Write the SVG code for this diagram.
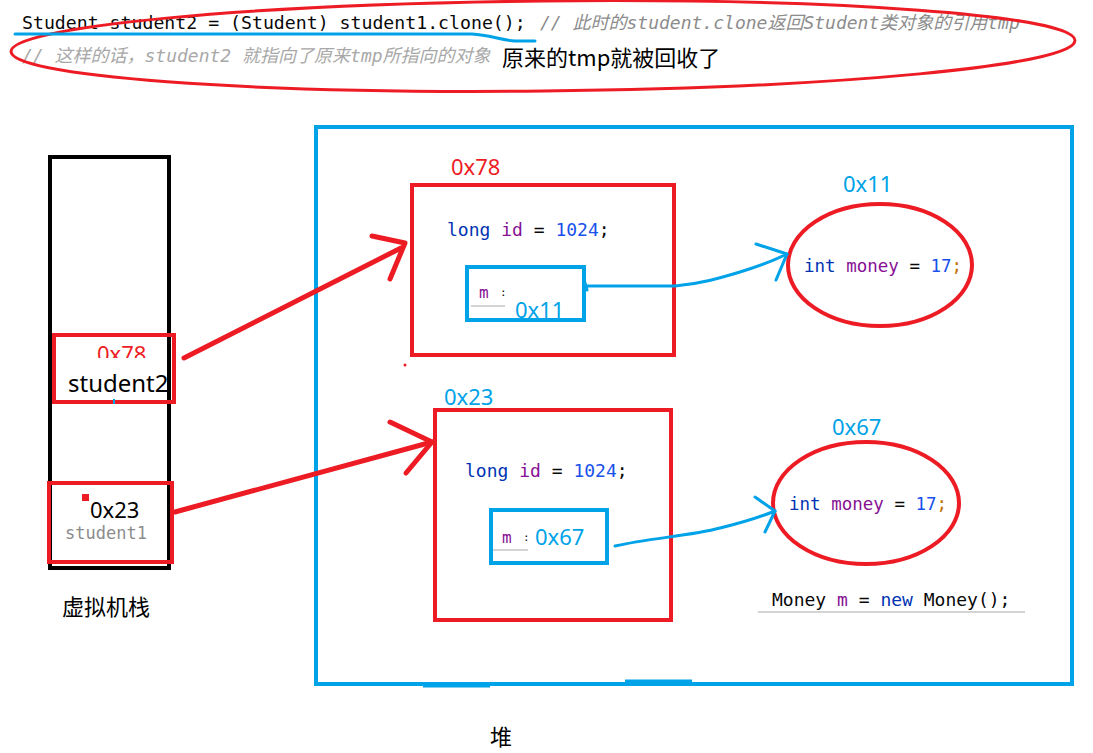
<svg xmlns="http://www.w3.org/2000/svg" width="1093" height="753" viewBox="0 0 1093 753">
<defs>
<style>
.code{font-family:"DejaVu Sans Mono","Liberation Mono","Noto Sans CJK SC",monospace;font-size:18px}
.cmt{font-family:"DejaVu Sans Mono","Noto Sans CJK SC",monospace;font-size:18px;font-style:italic;fill:#8c8c8c}
.cmt2{fill:#a8a8a8}
.hand{font-family:"Noto Sans","Noto Sans CJK SC",sans-serif;font-size:22px}
.cjk{font-family:"Noto Sans CJK SC",sans-serif;font-size:22px;fill:#000}
.kw{fill:#0033b3}.var{fill:#871094}.num{fill:#1750eb}.blk{fill:#080808}
.redbox{fill:none;stroke:#ed1c24;stroke-width:4}
.bluebox{fill:none;stroke:#00a2e8;stroke-width:4}
.red{fill:#ed1c24}.blue{fill:#00a2e8}
.redpen{fill:none;stroke:#ed1c24;stroke-width:5;stroke-linecap:round;stroke-linejoin:round}
.bluepen{fill:none;stroke:#00a2e8;stroke-width:3;stroke-linecap:round;stroke-linejoin:round}
.uline{stroke:#c4c4c4;stroke-width:1.5}
</style>
<clipPath id="clip78"><rect x="56" y="337" width="116" height="21"/></clipPath>
</defs>

<g id="header">
<text class="code blk" x="22" y="29" style="font-size:18.2px">Student student2 = (Student) student1.clone();</text>
<text class="cmt" x="540" y="29">// 此时的student.clone返回Student类对象的引用tmp</text>
<text class="cmt cmt2" x="22" y="62">// 这样的话，student2 就指向了原来tmp所指向的对象</text>
<text class="cjk" x="502" y="66">原来的tmp就被回收了</text>
<ellipse cx="543" cy="46" rx="532" ry="45" transform="rotate(-0.6 543 46)" fill="none" stroke="#ed1c24" stroke-width="3"/>
<path class="bluepen" d="M15,34 L472,34 C490,35 500,40 515,41 L535,41"/>
</g>

<g id="stack">
<rect x="50" y="157" width="119" height="411" fill="none" stroke="#000" stroke-width="4"/>
<text class="cjk" x="62" y="615">虚拟机栈</text>
</g>

<g id="student2">
<rect class="redbox" x="54" y="335" width="120" height="67"/>
<text class="hand red" x="97" y="362" clip-path="url(#clip78)">0x78</text>
<text class="hand" x="68" y="392" fill="#000" style="font-size:24px">student2</text>
<line x1="114" y1="399" x2="114" y2="404" stroke="#00a2e8" stroke-width="2"/>
</g>

<g id="student1">
<rect class="redbox" x="49" y="483" width="123" height="79"/>
<rect x="82" y="494" width="7" height="7" fill="#ed1c24"/>
<text class="hand" x="90" y="518" fill="#000">0x23</text>
<text class="code" x="65" y="539" fill="#8c8c8c" style="font-size:17px">student1</text>
</g>

<g id="heap">
<rect class="bluebox" x="316" y="127" width="756" height="557"/>
<line x1="423" y1="686" x2="490" y2="686" stroke="#00a2e8" stroke-width="3"/>
<line x1="625" y1="681" x2="692" y2="681" stroke="#00a2e8" stroke-width="3"/>
<text class="cjk" x="490" y="745">堆</text>
</g>

<g id="obj78">
<text class="hand red" x="451" y="175">0x78</text>
<rect class="redbox" x="412" y="185" width="262" height="170"/>
<text class="code" x="447" y="236"><tspan class="kw">long</tspan> <tspan class="var">id</tspan> <tspan class="blk">=</tspan> <tspan class="num">1024</tspan><tspan class="blk">;</tspan></text>
<circle cx="405" cy="365" r="1.5" fill="#ed1c24"/>
</g>

<g id="ref11">
<rect class="bluebox" x="467" y="267" width="117" height="53"/>
<text class="code var" x="479" y="298" style="font-size:16px">m</text>
<text class="code blk" x="500" y="296" style="font-size:11px">:</text>
<line class="uline" x1="471" y1="306" x2="505" y2="306"/>
<text class="hand blue" x="515" y="318">0x11</text>
</g>

<g id="obj23">
<text class="hand blue" x="444" y="405">0x23</text>
<rect class="redbox" x="435" y="410" width="236" height="210"/>
<text class="code" x="465" y="477"><tspan class="kw">long</tspan> <tspan class="var">id</tspan> <tspan class="blk">=</tspan> <tspan class="num">1024</tspan><tspan class="blk">;</tspan></text>
</g>

<g id="ref67">
<rect class="bluebox" x="491" y="510" width="116" height="53"/>
<text class="code var" x="502" y="543" style="font-size:16px">m</text>
<text class="code blk" x="523" y="541" style="font-size:11px">:</text>
<line class="uline" x1="493" y1="550" x2="528" y2="550"/>
<text class="hand blue" x="535" y="545">0x67</text>
</g>

<g id="money11">
<text class="hand blue" x="843" y="192">0x11</text>
<ellipse cx="880" cy="265" rx="92" ry="61" fill="none" stroke="#ed1c24" stroke-width="4"/>
<text class="code" x="804" y="272" style="font-size:17.5px"><tspan class="kw">int</tspan> <tspan class="var">money</tspan> <tspan class="blk">=</tspan> <tspan class="num">17</tspan><tspan fill="#c07000">;</tspan></text>
</g>

<g id="money67">
<text class="hand blue" x="832" y="435">0x67</text>
<ellipse cx="866" cy="503" rx="93" ry="61" fill="none" stroke="#ed1c24" stroke-width="4"/>
<text class="code" x="789" y="510" style="font-size:17.5px"><tspan class="kw">int</tspan> <tspan class="var">money</tspan> <tspan class="blk">=</tspan> <tspan class="num">17</tspan><tspan fill="#c07000">;</tspan></text>
<text class="code" x="772" y="606"><tspan class="blk">Money</tspan> <tspan class="var">m</tspan> <tspan class="blk">=</tspan> <tspan class="kw">new</tspan> <tspan class="blk">Money();</tspan></text>
<line class="uline" x1="758" y1="612" x2="1025" y2="612"/>
</g>

<g id="connectors">
<path class="redpen" d="M184,358 L401,248"/>
<path class="redpen" d="M372,236 L405,243 L390,279"/>
<path class="redpen" d="M175,512 L432,442"/>
<path class="redpen" d="M390,422 L432,442 L406,473"/>
<path class="bluepen" d="M585,283 L587,290 M587,286 L675,286 C700,284 720,278 740,272 C760,266 775,260 787,254"/>
<path class="bluepen" d="M756,244 L787,254 L776,280"/>
<path class="bluepen" d="M615,546 C650,538 690,536 720,528 C745,522 760,517 775,511"/>
<path class="bluepen" d="M755,497 L775,511 L765,532"/>
</g>
</svg>
